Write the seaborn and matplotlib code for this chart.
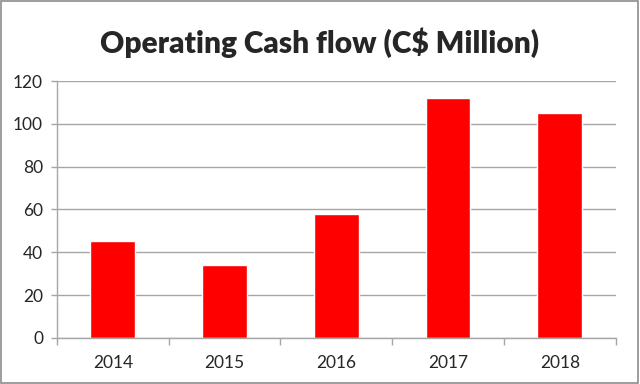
import matplotlib
matplotlib.use("Agg")
import matplotlib.pyplot as plt
import numpy as np
import pandas as pd
import seaborn as sns

years = ["2014", "2015", "2016", "2017", "2018"]
cash_flow = [45.3, 34, 58, 112.3, 105]
y_ticks = [0, 20, 40, 60, 80, 100, 120]

sns.set_style("white")
plt.rcParams["font.family"] = ["Lato", "DejaVu Sans"]

df = pd.DataFrame({"year": years, "value": cash_flow})

fig = plt.figure(figsize=(6.4, 3.84), dpi=100)
ax = fig.add_axes([0.089, 0.12, 0.873, 0.669])

sns.barplot(data=df, x="year", y="value", color="#ff0000", width=0.4,
            saturation=1, ax=ax)

ax.set_xlim(-0.5, len(years) - 0.5)
ax.set_ylim(0, 120)
ax.set_yticks(y_ticks)
ax.yaxis.grid(True, color="#a6a6a6", linewidth=1)
ax.set_axisbelow(True)
ax.set_xlabel("")
ax.set_ylabel("")

for side in ["top", "right"]:
    ax.spines[side].set_visible(False)
for side in ["left", "bottom"]:
    ax.spines[side].set_color("#a6a6a6")
    ax.spines[side].set_linewidth(1)

ax.tick_params(axis="y", length=4, width=1, color="#a6a6a6", labelsize=12.5, pad=6, left=True)
ax.tick_params(axis="x", length=0, labelsize=12.5, pad=12)
ax.set_xticks(np.arange(-0.5, len(years)), minor=True)
ax.tick_params(axis="x", which="minor", length=5, width=1, color="#a6a6a6", bottom=True)

fig.text(0.5, 0.89, "Operating Cash flow (C$ Million)", ha="center", va="center",
         fontsize=21.5, fontweight="heavy")

border = plt.Rectangle((0.002, 0.003), 0.995, 0.994, transform=fig.transFigure,
                       fill=False, edgecolor="#8c8c8c", linewidth=1.2)
fig.patches.append(border)

fig.savefig("out.png", dpi=100)
